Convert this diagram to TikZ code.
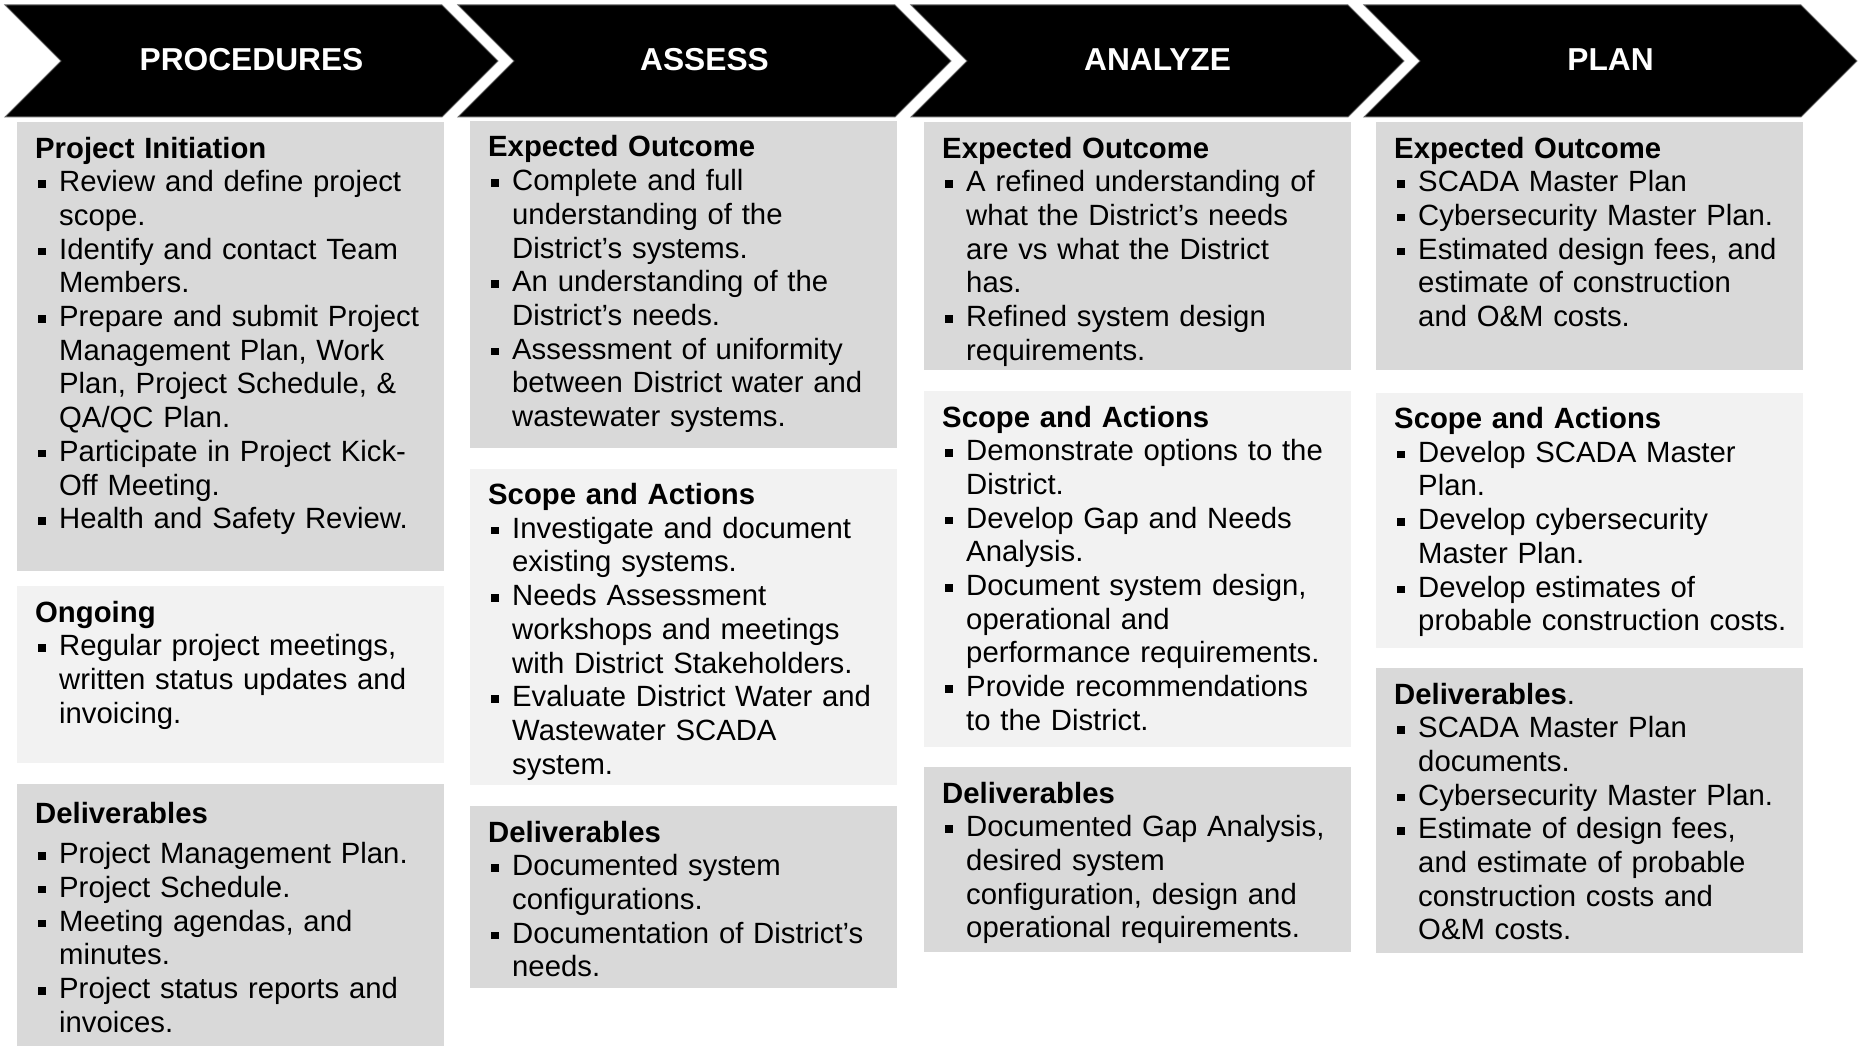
\documentclass[tikz,border=0pt]{standalone}
\usepackage{fontspec}
\setmainfont{Liberation Sans}
\usepackage{xcolor}
\usepackage{tikz}
\usetikzlibrary{positioning}

\definecolor{boxdark}{HTML}{D9D9D9}
\definecolor{boxlight}{HTML}{F2F2F2}

\newlength{\bulletw}
\setlength{\bulletw}{24pt}
\newcommand{\bodyfont}{\fontsize{29.3pt}{33.7pt}\selectfont}
\newcommand{\headfont}{\fontsize{31.7pt}{36pt}\selectfont\bfseries}
% square bullet with hanging indent
\newcommand{\bitem}{\par\hangindent=\bulletw\hangafter=1\noindent
  \makebox[\bulletw][l]{\hspace{3pt}\rule[4pt]{7.5pt}{7.5pt}}}

\begin{document}
\begin{tikzpicture}[x=1pt,y=-1pt,
  chev/.style={fill=black,draw=black!60,line width=1pt},
  head/.style={text=white,font=\headfont,inner sep=0pt},
  panel/.style={anchor=north west,minimum width=427pt,inner sep=0pt,outer sep=0pt},
  txt/.style={anchor=base west,text width=405pt,align=left,inner sep=0pt,
    font=\bodyfont,xshift=18pt,yshift=-36pt}]

\useasboundingbox (0,0) rectangle (1860,1046);

% phase arrows
\filldraw[chev] (5,5) -- (442,5) -- (498,61) -- (442,117) -- (5,117) -- (61,61) -- cycle;
\filldraw[chev] (458,5) -- (895,5) -- (951,61) -- (895,117) -- (458,117) -- (514,61) -- cycle;
\filldraw[chev] (911,5) -- (1348,5) -- (1404,61) -- (1348,117) -- (911,117) -- (967,61) -- cycle;
\filldraw[chev] (1364,5) -- (1801,5) -- (1857,61) -- (1801,117) -- (1364,117) -- (1420,61) -- cycle;

\node[head] (procedures) at (251.5,60) {PROCEDURES};
\node[head] (assess) at (704.5,60) {ASSESS};
\node[head] (analyze) at (1157.5,60) {ANALYZE};
\node[head] (plan) at (1610.5,60) {PLAN};

% procedures column
\node[panel,fill=boxdark,minimum height=448.5pt] (init) at (17,122) {};
\node[panel,fill=boxlight,minimum height=177pt,below=15.5pt of init] (ongoing) {};
\node[panel,fill=boxdark,minimum height=262pt,below=21pt of ongoing] (procdel) {};

\node[txt] (init-txt) at (init.north west) {\textbf{Project Initiation}
  \bitem Review and define project\newline scope.
  \bitem Identify and contact Team\newline Members.
  \bitem Prepare and submit Project\newline Management Plan, Work\newline Plan, Project Schedule, \&\newline QA/QC Plan.
  \bitem Participate in Project Kick-\newline Off Meeting.
  \bitem Health and Safety Review.\par};
\node[txt] (ongoing-txt) at (ongoing.north west) {\textbf{Ongoing}
  \bitem Regular project meetings,\newline written status updates and\newline invoicing.\par};
\node[txt,yshift=-3pt] (procdel-txt) at (procdel.north west) {\textbf{Deliverables}\par\vspace{7pt}
  \bitem Project Management Plan.
  \bitem Project Schedule.
  \bitem Meeting agendas, and\newline minutes.
  \bitem Project status reports and\newline invoices.\par};

% assess column
\node[panel,fill=boxdark,minimum height=326.5pt] (asout) at (470,121) {};
\node[panel,fill=boxlight,minimum height=316.5pt,below=21pt of asout] (asscope) {};
\node[panel,fill=boxdark,minimum height=181.5pt,below=21pt of asscope] (asdel) {};

\node[txt] (asout-txt) at (asout.north west) {\textbf{Expected Outcome}
  \bitem Complete and full\newline understanding of the\newline District’s systems.
  \bitem An understanding of the\newline District’s needs.
  \bitem Assessment of uniformity\newline between District water and\newline wastewater systems.\par};
\node[txt] (asscope-txt) at (asscope.north west) {\textbf{Scope and Actions}
  \bitem Investigate and document\newline existing systems.
  \bitem Needs Assessment\newline workshops and meetings\newline with District Stakeholders.
  \bitem Evaluate District Water and\newline Wastewater SCADA\newline system.\par};
\node[txt] (asdel-txt) at (asdel.north west) {\textbf{Deliverables}
  \bitem Documented system\newline configurations.
  \bitem Documentation of District’s\newline needs.\par};

% analyze column
\node[panel,fill=boxdark,minimum height=247.5pt] (anout) at (924,122) {};
\node[panel,fill=boxlight,minimum height=356pt,below=21.5pt of anout] (anscope) {};
\node[panel,fill=boxdark,minimum height=184.5pt,below=20pt of anscope] (andel) {};

\node[txt] (anout-txt) at (anout.north west) {\textbf{Expected Outcome}
  \bitem A refined understanding of\newline what the District’s needs\newline are vs what the District\newline has.
  \bitem Refined system design\newline requirements.\par};
\node[txt] (anscope-txt) at (anscope.north west) {\textbf{Scope and Actions}
  \bitem Demonstrate options to the\newline District.
  \bitem Develop Gap and Needs\newline Analysis.
  \bitem Document system design,\newline operational and\newline performance requirements.
  \bitem Provide recommendations\newline to the District.\par};
\node[txt] (andel-txt) at (andel.north west) {\textbf{Deliverables}
  \bitem Documented Gap Analysis,\newline desired system\newline configuration, design and\newline operational requirements.\par};

% plan column
\node[panel,fill=boxdark,minimum height=248pt] (plout) at (1376,122) {};
\node[panel,fill=boxlight,minimum height=255pt,below=22.5pt of plout] (plscope) {};
\node[panel,fill=boxdark,minimum height=284.5pt,below=20.5pt of plscope] (pldel) {};

\node[txt] (plout-txt) at (plout.north west) {\textbf{Expected Outcome}
  \bitem SCADA Master Plan
  \bitem Cybersecurity Master Plan.
  \bitem Estimated design fees, and\newline estimate of construction\newline and O\&M costs.\par};
\node[txt] (plscope-txt) at (plscope.north west) {\textbf{Scope and Actions}
  \bitem Develop SCADA Master\newline Plan.
  \bitem Develop cybersecurity\newline Master Plan.
  \bitem Develop estimates of\newline probable construction costs.\par};
\node[txt] (pldel-txt) at (pldel.north west) {\textbf{Deliverables}.
  \bitem SCADA Master Plan\newline documents.
  \bitem Cybersecurity Master Plan.
  \bitem Estimate of design fees,\newline and estimate of probable\newline construction costs and\newline O\&M costs.\par};

\end{tikzpicture}
\end{document}
